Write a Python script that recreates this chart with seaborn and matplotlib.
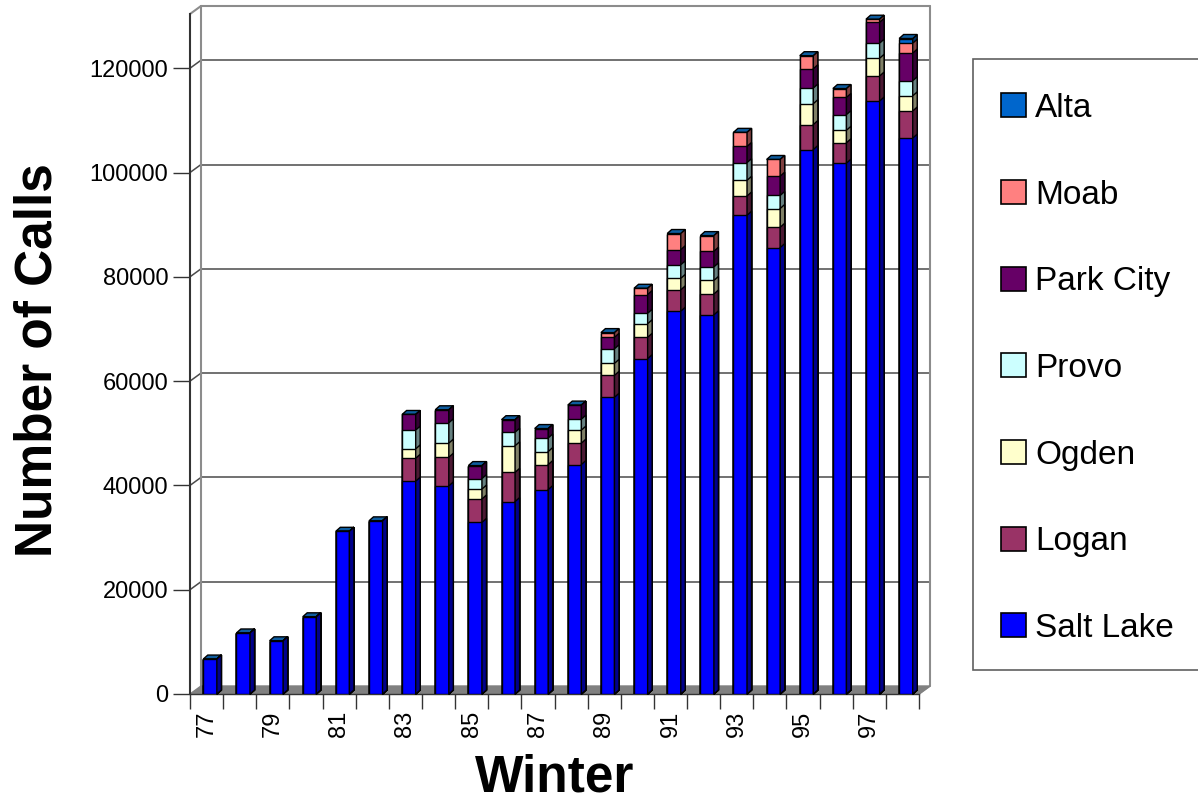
import numpy as np
import pandas as pd
import matplotlib
matplotlib.use("Agg")
import matplotlib.pyplot as plt
import seaborn as sns
from matplotlib.patches import Polygon, Patch, Rectangle

# ---------------- data ----------------
winters = ["77", "78", "79", "80", "81", "82", "83", "84", "85", "86", "87",
           "88", "89", "90", "91", "92", "93", "94", "95", "96", "97", "98"]
salt_lake = [6700, 11700, 10200, 14800, 31200, 33200, 40800, 39900, 32900, 36900, 39200,
             44000, 56900, 64300, 73400, 72700, 91800, 85600, 104400, 101800, 113700, 106600]
logan = [0, 0, 0, 0, 0, 0, 4400, 5500, 4500, 5600, 4800,
         4100, 4200, 4100, 4100, 4000, 3700, 3900, 4800, 3900, 4800, 5200]
ogden = [0, 0, 0, 0, 0, 0, 1800, 2700, 1900, 5100, 2500,
         2500, 2300, 2600, 2200, 2600, 3000, 3600, 4000, 2400, 3400, 2900]
provo = [0, 0, 0, 0, 0, 0, 3600, 3900, 2000, 2600, 2600,
         2100, 2800, 2000, 2600, 2600, 3400, 2500, 3000, 3000, 2900, 2900]
park_city = [0, 0, 0, 0, 0, 0, 3000, 2500, 2500, 2400, 1800,
             2700, 2200, 3600, 2900, 3000, 3100, 3700, 3700, 3300, 4000, 5300]
moab = [0, 0, 0, 0, 0, 0, 0, 0, 0, 0, 0,
        0, 900, 1200, 3100, 3000, 2700, 3200, 2500, 1700, 600, 1900]
alta = [0, 0, 0, 0, 0, 0, 0, 0, 0, 0, 0,
        0, 0, 0, 0, 0, 0, 0, 0, 0, 0, 900]

series_names = ["Salt Lake", "Logan", "Ogden", "Provo", "Park City", "Moab", "Alta"]
series_values = [salt_lake, logan, ogden, provo, park_city, moab, alta]
y_ticks = [0, 20000, 40000, 60000, 80000, 100000, 120000]

# ---------------- styles ----------------
front_colors = ["#0000FF", "#993366", "#FFFFCC", "#CCFFFF", "#660066", "#FF8080", "#0066CC"]
side_colors = ["#00008C", "#4C1933", "#808066", "#668080", "#330033", "#804040", "#003366"]
top_color = "#0E5C9E"

rows = []
cum = np.zeros(len(winters))
for name, vals in zip(series_names, series_values):
    cum = cum + np.array(vals, dtype=float)
    for w, v, c in zip(winters, vals, cum):
        rows.append({"Winter": w, "Series": name, "Calls": v, "Cumulative": c})
df = pd.DataFrame(rows)

sns.set_style("white")
plt.rcParams["font.family"] = ["Liberation Sans", "DejaVu Sans"]
plt.rcParams["text.color"] = "black"
plt.rcParams["axes.labelcolor"] = "black"
plt.rcParams["xtick.color"] = "black"
plt.rcParams["ytick.color"] = "black"

W, H, DPI = 1198, 806, 100
fig = plt.figure(figsize=(W / DPI, H / DPI), dpi=DPI)
ax_l, ax_r, ax_t, ax_b = 190, 919, 14, 694
ax = fig.add_axes([ax_l / W, 1 - ax_b / H, (ax_r - ax_l) / W, (ax_b - ax_t) / H])

n = len(winters)
YMAX = 130400
ux = (ax_r - ax_l) / n          # px per category
uy = (ax_b - ax_t) / YMAX       # px per call


def px(dx, dy):
    return dx / ux, dy / uy


bar_dx, bar_dy = px(4.5, 4)
wall_dx, wall_dy = px(11, 8)
shift = 3.5 / ux

# ---------------- stacked 3D-look bars ----------------
for i in range(len(series_names) - 1, -1, -1):
    sub = df[df["Series"] == series_names[i]]
    before = len(ax.patches)
    sns.barplot(data=sub, x="Winter", y="Cumulative", order=winters,
                color=front_colors[i], saturation=1, width=0.41,
                edgecolor="black", linewidth=1.0, errorbar=None, ax=ax, zorder=3)
    new = list(ax.patches[before:])
    for p in new:
        p.set_x(p.get_x() + shift)
        x0, w, h = p.get_x(), p.get_width(), p.get_height()
        side = Polygon([(x0 + w, 0), (x0 + w, h), (x0 + w + bar_dx, h + bar_dy),
                        (x0 + w + bar_dx, bar_dy)], closed=True,
                       facecolor=side_colors[i], edgecolor="black", linewidth=1.0,
                       zorder=3, clip_on=False)
        ax.add_patch(side)
        if i == len(series_names) - 1:
            top = Polygon([(x0, h), (x0 + w, h), (x0 + w + bar_dx, h + bar_dy),
                           (x0 + bar_dx, h + bar_dy)], closed=True,
                          facecolor=top_color, edgecolor="black", linewidth=1.0,
                          zorder=3, clip_on=False)
            ax.add_patch(top)

ax.set_xlim(-0.5, n - 0.5)
ax.set_ylim(0, YMAX)

# ---------------- walls and floor ----------------
x_a, x_b = -0.5, n - 0.5
floor = Polygon([(x_a, 0), (x_b, 0), (x_b + wall_dx, wall_dy), (x_a + wall_dx, wall_dy)],
                closed=True, facecolor="#808080", edgecolor="#808080", linewidth=1,
                zorder=1, clip_on=False)
ax.add_patch(floor)
for v in y_ticks[1:]:
    ax.plot([x_a + wall_dx, x_b + wall_dx], [v + wall_dy, v + wall_dy],
            color="#4a4a4a", lw=1.1, zorder=0.8, clip_on=False)
    ax.plot([x_a, x_a + wall_dx], [v, v + wall_dy], color="#4a4a4a", lw=1.1,
            zorder=0.8, clip_on=False)
wall_c = "#8c8c8c"
ax.plot([x_a + wall_dx, x_a + wall_dx], [wall_dy, YMAX + wall_dy], color=wall_c, lw=1.5,
        zorder=0.9, clip_on=False)
ax.plot([x_b + wall_dx, x_b + wall_dx], [wall_dy, YMAX + wall_dy], color=wall_c, lw=1.5,
        zorder=0.9, clip_on=False)
ax.plot([x_a + wall_dx, x_b + wall_dx], [YMAX + wall_dy, YMAX + wall_dy], color=wall_c,
        lw=1.5, zorder=0.9, clip_on=False)
ax.plot([x_a, x_a + wall_dx], [YMAX, YMAX + wall_dy], color=wall_c, lw=1.5,
        zorder=0.9, clip_on=False)
ax.plot([x_b, x_b + wall_dx], [0, wall_dy], color=wall_c, lw=1.2,
        zorder=0.9, clip_on=False)

# ---------------- axes styling ----------------
for s in ["top", "right"]:
    ax.spines[s].set_visible(False)
ax.spines["left"].set_color("#333333")
ax.spines["left"].set_linewidth(1.5)
ax.spines["bottom"].set_color("#333333")
ax.spines["bottom"].set_linewidth(1.0)

ax.set_yticks(y_ticks)
ax.set_yticklabels([str(v) for v in y_ticks])
ax.tick_params(axis="y", left=True, length=12, width=1.0, color="#333333",
               direction="out", labelsize=17, pad=3.5, labelcolor="black")

label_pos = list(range(0, n, 2))
ax.set_xticks(label_pos)
ax.set_xticklabels([winters[i] for i in label_pos], rotation=90, ha="center", va="top")
ax.set_xticks(np.arange(-0.5, n, 1), minor=True)
ax.tick_params(axis="x", which="major", bottom=True, length=0, labelsize=17, pad=12,
               labelcolor="black")
ax.tick_params(axis="x", which="minor", bottom=True, length=11, width=1.0,
               color="#333333", direction="out")

ax.set_xlabel("Winter", fontsize=37, fontweight="bold", color="black")
ax.set_ylabel("Number of Calls", fontsize=37, fontweight="bold", color="black")
ax.xaxis.set_label_coords((555 - ax_l) / (ax_r - ax_l), -(753 - ax_b) / (ax_b - ax_t))
ax.yaxis.set_label_coords((62.8 - ax_l) / (ax_r - ax_l), (ax_b - 360) / (ax_b - ax_t))
ax.grid(False)

# ---------------- legend ----------------
frame = Rectangle((973 / W, 1 - 670 / H), (1240 - 973) / W, (670 - 59) / H,
                  transform=fig.transFigure, facecolor="white", edgecolor="#606060",
                  linewidth=1.2, zorder=1, clip_on=False)
fig.add_artist(frame)
handles = [Patch(facecolor=front_colors[i], edgecolor="black", linewidth=1.2)
           for i in range(len(series_names) - 1, -1, -1)]
labels = [series_names[i] for i in range(len(series_names) - 1, -1, -1)]
leg = fig.legend(handles, labels, loc="upper left", bbox_to_anchor=(1001 / W, 1 - 93 / H),
                 frameon=False, fontsize=24, handlelength=0.75, handleheight=0.72,
                 handletextpad=0.27, labelspacing=1.67, borderpad=0, borderaxespad=0,
                 labelcolor="black")
leg.set_zorder(5)

fig.savefig("out.png", dpi=DPI)
